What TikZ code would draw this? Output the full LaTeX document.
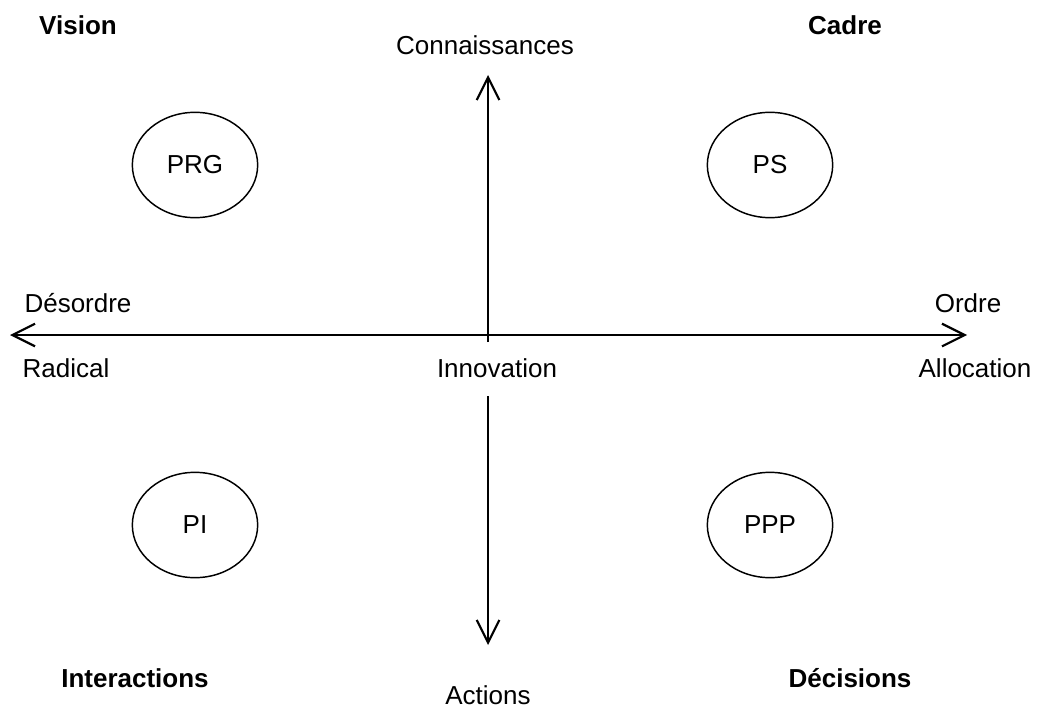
\documentclass[tikz,border=0pt]{standalone}
\usepackage{fontspec}
\setmainfont{Liberation Sans}
\usetikzlibrary{positioning, shapes.geometric, arrows.meta}

\tikzset{
  axis/.style={line width=1.6pt, {Straight Barb[length=17pt,width=17pt,line width=1.6pt]}-{Straight Barb[length=17pt,width=17pt,line width=1.6pt]}},
  axisup/.style={line width=1.6pt, -{Straight Barb[length=17pt,width=17pt,line width=1.6pt]}},
  pole/.style={draw, ellipse, line width=1.1pt, minimum width=94pt, minimum height=79pt, inner sep=0pt},
  lbl/.style={inner sep=0pt},
  quad/.style={inner sep=0pt, font=\fontsize{19.5}{23}\selectfont\bfseries}
}

\begin{document}
\begin{tikzpicture}[x=0.75pt, y=-0.75pt, font=\fontsize{19.5}{23}\selectfont]
    \useasboundingbox (0,0) rectangle (1037,709);

    % axis end points
    \coordinate (west) at (10,335);
    \coordinate (east) at (967,335);
    \coordinate (north) at (488,75);
    \coordinate (south) at (488,645);
    \coordinate (cross) at (488,342);
    \coordinate (lowstart) at (488,396);

    \draw[axis] (west) -- (east); % horizontal axis
    \draw[axisup] (cross) -- (north); % upper half
    \draw[axisup] (lowstart) -- (south); % lower half

    % axis labels
    \node[lbl] (conn) at (485,45) {Connaissances};
    \node[lbl] (act) at (488,695) {Actions};
    \node[lbl] (des) at (78,303) {Désordre};
    \node[lbl] (rad) at (66,368) {Radical};
    \node[lbl] (ord) at (968,303) {Ordre};
    \node[lbl] (alloc) at (975,368) {Allocation};
    \node[lbl] (innov) at (497,368) {Innovation};

    % quadrant titles
    \node[quad] (vision) at (78,25) {Vision};
    \node[quad] (cadre) at (845,25) {Cadre};
    \node[quad] (inter) at (135,678) {Interactions};
    \node[quad] (decis) at (850,678) {Décisions};

    % the four poles
    \node[pole] (prg) at (195,165) {PRG};
    \node[pole] (ps) at (770,165) {PS};
    \node[pole] (pi) at (195,525) {PI};
    \node[pole] (ppp) at (770,525) {PPP};
\end{tikzpicture}
\end{document}
